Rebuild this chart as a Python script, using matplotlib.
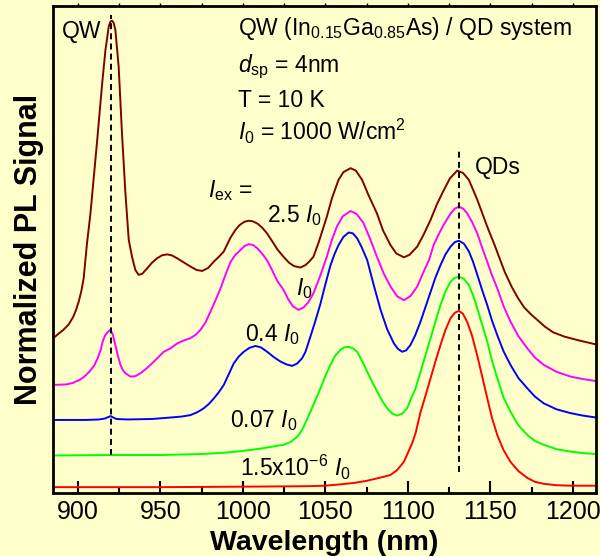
import matplotlib
matplotlib.use("Agg")
import matplotlib.pyplot as plt
from matplotlib.ticker import MultipleLocator, NullFormatter

# ---------------------------------------------------
# SPECTRA (vertically offset, normalized units)
# ---------------------------------------------------

wl_brown = [885.2, 888.0, 891.3, 894.5, 897.3, 899.0, 900.6, 902.2, 903.6, 905.5,
            907.7, 911.8, 914.8, 916.8, 918.8, 919.8, 920.8, 921.8, 922.8, 924.8,
            926.8, 928.9, 930.9, 932.9, 934.9, 936.9, 939.0, 942.0, 945.0, 948.1,
            951.0, 954.2, 957.0, 960.2, 964.0, 968.3, 972.0, 975.4, 979.0, 982.4,
            985.5, 988.5, 992.5, 995.5, 998.0, 1001.0, 1003.6, 1006.0, 1009.0, 1012.0,
            1014.7, 1018.0, 1021.0, 1024.7, 1028.0, 1031.0, 1034.9, 1038.0, 1040.5, 1042.8,
            1046.0, 1050.9, 1054.0, 1058.0, 1061.0, 1065.3, 1068.5, 1072.3, 1076.0, 1081.3,
            1085.0, 1089.5, 1093.0, 1097.6, 1101.0, 1105.7, 1109.5, 1113.8, 1117.5, 1121.8,
            1125.5, 1129.9, 1133.5, 1137.0, 1142.1, 1148.1, 1152.6, 1158.7, 1163.0, 1166.8,
            1170.5, 1174.9, 1182.9, 1188.0, 1195.0, 1204.0, 1214.2]
sig_brown = [31.8, 32.6, 33.5, 34.6, 36.2, 37.6, 39.3, 41.5, 44.1, 50.9,
             57.4, 72.5, 84.1, 91.0, 95.8, 96.8, 97.0, 96.5, 95.1, 87.5,
             73.9, 61.5, 52.0, 48.5, 45.8, 44.8, 45.0, 46.1, 47.3, 48.2,
             48.8, 49.0, 48.8, 48.2, 47.4, 46.5, 45.8, 45.6, 46.2, 47.5,
             48.5, 49.6, 52.4, 54.0, 55.0, 55.7, 55.9, 55.8, 55.3, 54.4,
             53.3, 51.6, 50.0, 48.5, 47.3, 46.6, 46.3, 46.8, 47.6, 48.5,
             51.5, 56.7, 60.5, 64.3, 65.9, 66.7, 66.2, 64.3, 61.3, 57.4,
             53.9, 50.9, 49.2, 48.4, 48.9, 50.6, 53.0, 56.1, 59.2, 62.2,
             64.6, 66.2, 65.7, 64.3, 60.2, 54.7, 50.9, 45.4, 42.3, 40.0,
             38.1, 36.6, 34.2, 33.0, 32.1, 31.3, 30.5]

wl_mag = [885.3, 893.2, 897.0, 901.0, 904.0, 907.0, 910.0, 912.1, 914.0, 915.1,
          916.5, 918.0, 919.8, 921.2, 922.8, 924.3, 925.9, 927.4, 928.9, 931.9,
          935.0, 938.0, 941.0, 944.0, 948.0, 952.1, 956.2, 960.2, 964.0, 968.3,
          971.5, 974.4, 977.5, 980.4, 983.5, 986.5, 989.5, 992.5, 995.5, 998.6,
          1001.0, 1003.6, 1006.3, 1009.0, 1011.8, 1014.7, 1018.0, 1021.0, 1024.7, 1027.5,
          1030.5, 1033.8, 1036.8, 1039.8, 1042.8, 1046.5, 1050.9, 1054.0, 1057.0, 1060.5,
          1065.3, 1069.0, 1073.2, 1077.0, 1081.3, 1085.5, 1089.5, 1093.5, 1097.6, 1101.5,
          1105.7, 1109.0, 1112.8, 1115.6, 1118.5, 1121.6, 1125.9, 1128.5, 1130.9, 1133.5,
          1136.0, 1139.0, 1142.1, 1145.1, 1148.1, 1151.0, 1154.2, 1158.0, 1162.2, 1167.0,
          1172.4, 1177.0, 1182.4, 1190.0, 1198.6, 1206.0, 1213.8]
sig_mag = [22.2, 22.3, 22.6, 23.2, 23.9, 24.9, 26.2, 27.7, 29.5, 31.1,
           32.3, 33.0, 33.5, 32.6, 30.4, 28.2, 26.3, 25.2, 24.6, 23.9,
           24.0, 24.6, 25.4, 26.3, 27.6, 29.0, 29.7, 30.7, 31.3, 31.8,
           32.5, 33.5, 35.1, 37.2, 39.6, 42.0, 44.8, 47.4, 48.9, 49.9,
           50.7, 51.1, 50.9, 50.2, 49.1, 47.8, 45.6, 43.5, 41.7, 39.8,
           38.3, 37.6, 38.1, 39.2, 41.0, 44.2, 48.5, 52.0, 54.7, 56.8,
           57.9, 57.3, 55.4, 52.3, 48.5, 45.0, 42.4, 40.4, 39.6, 40.4,
           42.4, 45.0, 47.8, 50.9, 53.0, 55.0, 57.4, 58.4, 58.8, 58.4,
           57.4, 55.6, 53.3, 50.3, 47.5, 44.7, 42.0, 38.4, 35.2, 32.2,
           29.7, 27.8, 26.3, 24.9, 23.9, 23.4, 23.0]

wl_blue = [885.0, 905.0, 913.0, 916.5, 918.5, 920.0, 921.5, 923.5, 930.0, 945.0,
           956.2, 963.0, 968.3, 972.5, 976.4, 979.5, 982.4, 985.5, 988.5, 991.5,
           994.5, 997.5, 1000.6, 1004.0, 1007.7, 1011.0, 1014.8, 1018.8, 1022.8, 1026.5,
           1029.9, 1033.0, 1036.0, 1038.0, 1040.0, 1043.5, 1047.0, 1050.0, 1053.0, 1055.5,
           1058.0, 1061.0, 1064.2, 1066.8, 1069.3, 1072.0, 1075.4, 1079.5, 1083.5, 1087.5,
           1091.6, 1094.0, 1096.6, 1099.0, 1101.6, 1104.5, 1107.7, 1110.8, 1113.8, 1116.8,
           1119.8, 1122.8, 1125.9, 1128.4, 1130.9, 1134.0, 1137.0, 1139.5, 1142.1, 1145.0,
           1148.1, 1151.0, 1154.2, 1158.0, 1162.2, 1167.0, 1172.4, 1177.0, 1182.4, 1190.0,
           1198.6, 1206.0, 1214.0]
sig_blue = [15.0, 15.0, 15.1, 15.3, 15.6, 15.8, 15.5, 15.2, 15.1, 15.2,
            15.5, 15.7, 16.0, 16.6, 17.4, 18.3, 19.4, 20.7, 22.2, 24.4,
            26.6, 28.0, 29.0, 29.8, 30.2, 29.9, 29.0, 27.9, 27.0, 26.4,
            26.1, 26.6, 27.7, 29.0, 31.1, 34.8, 38.8, 42.8, 46.6, 49.0,
            50.9, 52.6, 53.5, 53.3, 52.3, 50.5, 47.8, 42.5, 37.6, 33.6,
            30.7, 29.6, 29.0, 29.3, 30.4, 32.4, 35.2, 38.3, 41.3, 44.3,
            46.8, 49.0, 50.6, 51.5, 51.8, 51.2, 49.6, 47.5, 44.8, 41.7,
            38.6, 35.4, 32.4, 29.1, 26.3, 23.6, 21.5, 19.8, 18.4, 17.2,
            16.4, 15.9, 15.5]

wl_green = [885.0, 920.0, 950.0, 975.0, 990.0, 999.0, 1006.0, 1012.5, 1019.0, 1024.7,
            1029.0, 1033.2, 1036.0, 1038.5, 1041.0, 1044.0, 1047.1, 1050.0, 1053.1, 1056.0,
            1059.2, 1061.5, 1064.2, 1066.8, 1069.3, 1072.0, 1075.4, 1078.5, 1081.5, 1084.5,
            1087.5, 1090.5, 1093.6, 1096.6, 1099.6, 1101.6, 1104.7, 1107.7, 1110.8, 1113.8,
            1116.8, 1119.8, 1122.8, 1125.9, 1128.4, 1130.9, 1133.9, 1137.0, 1139.5, 1142.1,
            1145.0, 1148.1, 1151.0, 1154.2, 1158.0, 1162.2, 1167.0, 1172.4, 1177.0, 1182.4,
            1190.0, 1198.6, 1206.0, 1214.0]
sig_green = [7.7, 7.8, 7.8, 8.0, 8.3, 8.6, 8.9, 9.2, 9.6, 9.9,
             10.5, 11.6, 13.0, 14.8, 16.7, 19.1, 21.5, 24.0, 26.3, 28.2,
             29.4, 29.9, 30.0, 29.7, 29.0, 27.3, 24.9, 22.7, 20.8, 18.9,
             17.4, 16.3, 15.9, 16.3, 17.4, 19.1, 21.5, 24.9, 28.4, 31.8,
             35.3, 38.6, 41.4, 43.4, 44.2, 44.4, 44.0, 42.7, 40.6, 37.9,
             34.6, 31.1, 27.2, 23.6, 19.6, 16.7, 13.9, 11.9, 10.7, 9.9,
             9.0, 8.5, 8.2, 8.0]

wl_red = [885.0, 950.0, 1000.0, 1040.0, 1050.0, 1060.0, 1068.0, 1075.0, 1080.0, 1085.0,
          1089.5, 1093.5, 1097.6, 1100.0, 1102.7, 1104.7, 1107.7, 1110.8, 1113.8, 1116.8,
          1119.8, 1122.8, 1125.9, 1128.4, 1130.9, 1133.4, 1136.0, 1139.0, 1142.0, 1145.0,
          1148.1, 1151.0, 1154.2, 1158.0, 1162.2, 1167.0, 1172.4, 1177.0, 1182.2, 1190.0,
          1198.6, 1214.0]
sig_red = [1.2, 1.2, 1.3, 1.4, 1.5, 1.8, 2.1, 2.5, 2.9, 3.3,
           3.7, 4.7, 6.4, 8.2, 10.3, 12.3, 16.6, 20.1, 23.6, 27.1,
           30.4, 33.5, 35.9, 37.0, 37.4, 36.8, 35.1, 32.2, 28.3, 24.0,
           19.5, 15.4, 11.9, 8.8, 6.4, 4.5, 3.1, 2.3, 1.9, 1.6,
           1.5, 1.5]

series = [
    (wl_brown, sig_brown, "#800000"),
    (wl_mag, sig_mag, "#FF00FF"),
    (wl_blue, sig_blue, "#0000FF"),
    (wl_green, sig_green, "#00FF00"),
    (wl_red, sig_red, "#FF0000"),
]

# peak markers: (wavelength, ymin, ymax)
qw_line = (920.0, 7.8, 98.2)
qd_line = (1131.0, 4.4, 70.8)

# ---------------------------------------------------
# STYLE
# ---------------------------------------------------

BG = "#FFFFCC"
plt.rcParams["font.family"] = ["Liberation Sans", "DejaVu Sans"]
plt.rcParams["mathtext.fontset"] = "custom"
plt.rcParams["mathtext.rm"] = "Liberation Sans"
plt.rcParams["mathtext.it"] = "Liberation Sans:italic"
plt.rcParams["mathtext.bf"] = "Liberation Sans:bold"
plt.rcParams["lines.scale_dashes"] = False

fig = plt.figure(figsize=(6.0, 5.56), dpi=100, facecolor=BG)
ax = fig.add_axes([0.0883, 0.1133, 0.905, 0.8759], facecolor=BG)

for wl, sig, color in series:
    ax.plot(wl, sig, color=color, lw=1.4)

for x0, y0, y1 in (qw_line, qd_line):
    ax.plot([x0, x0], [y0, y1], color="black", lw=1.4, dashes=(4.3, 3.0))

ax.set_xlim(885, 1214)
ax.set_ylim(0, 100)

ax.xaxis.set_major_locator(MultipleLocator(50))
ax.xaxis.set_minor_locator(MultipleLocator(25))
ax.set_yticks([])
ax.tick_params(axis="x", which="major", direction="in", length=8.4, width=1.5,
               labelsize=18, pad=5, top=False)
ax.tick_params(axis="x", which="minor", direction="in", length=4.5, width=1.5, top=False)

# short outward ticks along the top edge
top = ax.secondary_xaxis("top")
top.xaxis.set_major_locator(MultipleLocator(25))
top.xaxis.set_major_formatter(NullFormatter())
top.tick_params(direction="out", length=2, width=1)
top.spines["top"].set_visible(False)

for sp in ax.spines.values():
    sp.set_linewidth(2.0)

ax.set_xlabel("Wavelength (nm)", fontsize=20.5, fontweight="bold")
ax.xaxis.label.set_va("center")
ax.xaxis.set_label_coords(0.5, -0.1027)
ax.set_ylabel("Normalized PL Signal", fontsize=22, fontweight="bold")
ax.yaxis.label.set_va("center")
ax.yaxis.set_label_coords(-0.044, 0.5)

# ---------------------------------------------------
# ANNOTATIONS
# ---------------------------------------------------

fs = 16.5
ax.text(890.1, 93.5, "QW", fontsize=fs, va="baseline")
ax.text(1140.4, 65.5, "QDs", fontsize=fs, va="baseline")

info_x = 996.8
ax.text(info_x, 94.0, r"QW (In$_{\mathrm{0.15}}$Ga$_{\mathrm{0.85}}$As) / QD system",
        fontsize=fs, va="baseline")
ax.text(info_x, 86.5, r"$\mathit{d}_{\mathrm{sp}}$ = 4nm", fontsize=fs, va="baseline")
ax.text(info_x, 79.3, "T = 10 K", fontsize=fs, va="baseline")
ax.text(info_x, 72.5, r"$\mathit{I}_{\mathrm{0}}$ = 1000 W/cm$^{\mathrm{2}}$",
        fontsize=fs, va="baseline")

I0 = r"$\mathit{I}_{\mathrm{0}}$"
ax.text(979.2, 60.8, r"$\mathit{I}_{\mathrm{ex}}$ =", fontsize=fs, va="baseline")
ax.text(1014.4, 55.6, "2.5 " + I0, fontsize=fs, va="baseline")
ax.text(1032.5, 40.7, I0, fontsize=fs, va="baseline")
ax.text(1001.6, 31.1, "0.4 " + I0, fontsize=fs, va="baseline")
ax.text(992.5, 13.5, "0.07 " + I0, fontsize=fs, va="baseline")
ax.text(998.6, 3.5, r"1.5x10$^{\mathrm{-6}}$ " + I0, fontsize=fs, va="baseline")

fig.savefig("out.png", dpi=100, facecolor=BG)
